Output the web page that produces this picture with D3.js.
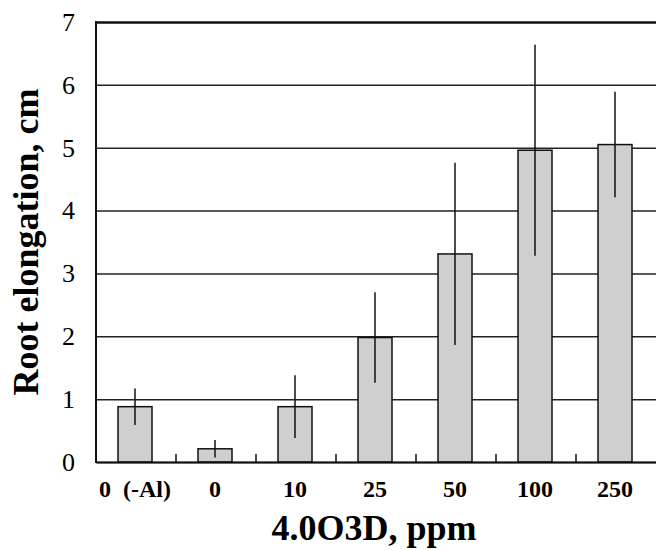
<!DOCTYPE html>
<html>
<head>
<meta charset="utf-8">
<script src="https://cdn.jsdelivr.net/npm/d3@7/dist/d3.min.js"></script>
<style>
  body { margin: 0; background: #fff; }
  svg { display: block; }
  text { font-family: "Liberation Serif", "Times New Roman", serif; }
</style>
</head>
<body>
<div id="chart"></div>
<script>
// 4.0O3D concentration (ppm) groups
const categories = ['0  (-Al)', '0', '10', '25', '50', '100', '250'];
// mean root elongation, cm
const means = [0.88, 0.21, 0.88, 1.98, 3.31, 4.96, 5.05];
// error (sd), cm
const errors = [0.29, 0.14, 0.50, 0.72, 1.45, 1.68, 0.84];
const yTicks = [0, 1, 2, 3, 4, 5, 6, 7];

const width = 656;
const height = 550;
const margin = { top: 22, right: 0, bottom: 88, left: 96 };
const serif = '"Liberation Serif", "Times New Roman", serif';

const svg = d3.select('#chart').append('svg').attr('width', width).attr('height', height);

const x = d3.scaleBand().domain(categories).range([margin.left, width - margin.right]).padding(0);
const y = d3.scaleLinear().domain([0, 7]).range([height - margin.bottom, margin.top]);

const barW = 34;

// horizontal grid + y labels
const yAxis = svg
  .append('g')
  .attr('transform', `translate(${margin.left},0)`)
  .call(
    d3.axisLeft(y)
      .tickValues(yTicks)
      .tickFormat(d3.format('d'))
      .tickSizeInner(-(width - margin.left - margin.right))
      .tickSizeOuter(0)
      .tickPadding(21)
  )
  .attr('font-family', serif)
  .attr('font-size', 26);
yAxis.select('.domain').remove();
yAxis.selectAll('.tick line').attr('stroke', '#222').attr('stroke-width', 1.5);
yAxis.selectAll('.tick')
  .filter(d => d === 7)
  .select('line')
  .attr('stroke', '#111')
  .attr('stroke-width', 2.5);
yAxis.selectAll('.tick text').attr('fill', '#000');

// bars
svg
  .selectAll('rect.bar')
  .data(means)
  .enter()
  .append('rect')
  .attr('class', 'bar')
  .attr('x', (d, i) => x(categories[i]) + x.bandwidth() / 2 - barW / 2 - 1)
  .attr('y', d => y(d))
  .attr('width', barW)
  .attr('height', d => y(0) - y(d))
  .attr('fill', '#cfcfcf')
  .attr('stroke', '#111')
  .attr('stroke-width', 1.5);

// error bars (no caps)
svg
  .selectAll('line.err')
  .data(means)
  .enter()
  .append('line')
  .attr('class', 'err')
  .attr('x1', (d, i) => x(categories[i]) + x.bandwidth() / 2 - 1)
  .attr('x2', (d, i) => x(categories[i]) + x.bandwidth() / 2 - 1)
  .attr('y1', (d, i) => y(d + errors[i]))
  .attr('y2', (d, i) => y(Math.max(0, d - errors[i])))
  .attr('stroke', '#111')
  .attr('stroke-width', 1.5);

// x axis: ticks point up between groups
const xAxis = svg
  .append('g')
  .attr('transform', `translate(0,${y(0)})`)
  .call(d3.axisBottom(x).tickSize(0).tickPadding(0).tickFormat(() => ''));
xAxis.select('.domain').attr('stroke', '#111').attr('stroke-width', 2);
xAxis.selectAll('.tick').remove();

svg
  .selectAll('line.sep')
  .data(categories.slice(1))
  .enter()
  .append('line')
  .attr('class', 'sep')
  .attr('x1', d => x(d))
  .attr('x2', d => x(d))
  .attr('y1', y(0))
  .attr('y2', y(0) - 8)
  .attr('stroke', '#111')
  .attr('stroke-width', 1.5);

// x labels
svg
  .selectAll('text.xl')
  .data(categories)
  .enter()
  .append('text')
  .attr('class', 'xl')
  .attr('x', d => x(d) + x.bandwidth() / 2 - 1)
  .attr('y', 497)
  .attr('text-anchor', 'middle')
  .style('white-space', 'pre')
  .style('font-family', serif)
  .style('font-weight', 'bold')
  .style('font-size', '24px')
  .text(d => d);

// y axis line
svg
  .append('line')
  .attr('x1', margin.left)
  .attr('x2', margin.left)
  .attr('y1', y(7) - 1)
  .attr('y2', y(0) + 1)
  .attr('stroke', '#111')
  .attr('stroke-width', 2);

// axis titles
svg
  .append('text')
  .attr('x', (margin.left + width - margin.right) / 2 - 2)
  .attr('y', 540)
  .attr('text-anchor', 'middle')
  .style('font-family', serif)
  .style('font-weight', 'bold')
  .style('font-size', '36px')
  .text('4.0O3D, ppm');

svg
  .append('text')
  .attr('transform', 'translate(38,242) rotate(-90)')
  .attr('text-anchor', 'middle')
  .style('font-family', serif)
  .style('font-weight', 'bold')
  .style('font-size', '36px')
  .text('Root elongation, cm');
</script>
</body>
</html>
